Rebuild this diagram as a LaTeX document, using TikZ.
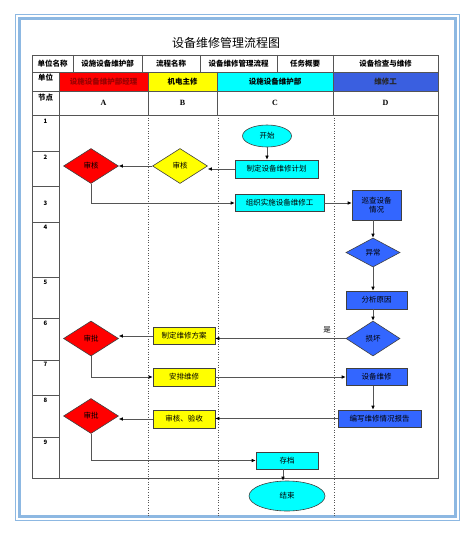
\documentclass[tikz,border=0pt]{standalone}
\usepackage{fontspec}
\setmainfont{Noto Sans CJK SC}
\newfontfamily\latinserif{Liberation Serif}
\usetikzlibrary{shapes.geometric,arrows.meta}
\definecolor{bordblue}{HTML}{8DB8E2}
\definecolor{myblue}{HTML}{3366FF}
\definecolor{hdrblue}{HTML}{3A5FE0}
\definecolor{darkred}{HTML}{990000}
\definecolor{gridgray}{HTML}{555555}
\definecolor{myred}{HTML}{FF0000}
\definecolor{myyellow}{HTML}{FFFF00}
\definecolor{mycyan}{HTML}{00FFFF}
\tikzset{
  grid/.style={draw=gridgray, line width=0.8pt},
  sep/.style={draw=gridgray, line width=0.6pt, dotted},
  hdr/.style={font=\bfseries\fontsize{7.5}{9}\selectfont, inner sep=0pt},
  num/.style={font=\bfseries\fontsize{6}{7}\selectfont, inner sep=0pt},
  lett/.style={font=\latinserif\bfseries\fontsize{8}{9}\selectfont, inner sep=0pt},
  proc/.style={draw=black!75, line width=0.6pt, inner sep=1pt, minimum height=17pt,
               font=\fontsize{7.5}{9}\selectfont, align=center},
  dia/.style={diamond, draw=black!75, line width=0.6pt, inner sep=0pt,
              minimum width=55pt, minimum height=35pt, aspect=1.57,
              font=\fontsize{7.5}{9}\selectfont},
  term/.style={ellipse, draw=black!75, line width=0.6pt, fill=mycyan, inner sep=0pt,
               font=\fontsize{7.5}{9}\selectfont},
  arr/.style={draw=gridgray, line width=0.6pt, -{Latex[length=4pt,width=3.5pt,color=black]}},
}
\begin{document}
\begin{tikzpicture}[x=1pt,y=-1pt]
\useasboundingbox (0,0) rectangle (474,540);
% border
\draw[bordblue, line width=1pt] (15.5,14.5) rectangle (459.5,520.5);
\draw[bordblue, line width=2.2pt] (19.5,18.5) rectangle (455.5,516.5);
% title
\node[font=\fontsize{12}{14}\selectfont] (title) at (226,43) {设备维修管理流程图};
% header fills
\fill[myred] (59,72) rectangle (148,91);
\fill[myyellow] (148,72) rectangle (217,91);
\fill[mycyan] (217,72) rectangle (333,91);
\fill[hdrblue] (333,72) rectangle (438,91);
% header grid
\foreach \yy in {55,72,91,115} \draw[grid] (32,\yy) -- (438,\yy);
\foreach \xx in {73,142,200,277,333} \draw[grid] (\xx,55) -- (\xx,72);
\foreach \xx in {59,148,217,333} \draw[grid] (\xx,72) -- (\xx,115);
\draw[grid] (32,55) rectangle (438,478);
\draw[grid] (59,115) -- (59,478);
\foreach \yy in {151,186,222,277,318,360,395,437} \draw[grid] (32,\yy) -- (59,\yy);
% dotted lane separators
\foreach \xx in {148,218,334} \draw[sep] (\xx,115) -- (\xx,517);
% header texts
\node[hdr] (h1) at (52.5,63.5) {单位名称};
\node[hdr] (h2) at (107.5,63.5) {设施设备维护部};
\node[hdr] (h3) at (171,63.5) {流程名称};
\node[hdr] (h4) at (238.5,63.5) {设备维修管理流程};
\node[hdr] (h5) at (305,63.5) {任务概要};
\node[hdr] (h6) at (385.5,63.5) {设备检查与维修};
\node[hdr] (u0) at (45.5,78) {单位};
\node[hdr, text=darkred] (u1) at (103.5,81.5) {设施设备维护部经理};
\node[hdr] (u2) at (182.5,81.5) {机电主修};
\node[hdr] (u3) at (275,81.5) {设施设备维护部};
\node[hdr, text=black!85] (u4) at (385.5,81.5) {维修工};
\node[hdr] (n0) at (45.5,98) {节点};
\node[lett] (la) at (103.5,103) {A};
\node[lett] (lb) at (182.5,103) {B};
\node[lett] (lc) at (275,103) {C};
\node[lett] (ld) at (385.5,103) {D};
% row numbers
\node[num] (r1) at (45.5,121) {1};
\node[num] (r2) at (45.5,157) {2};
\node[num] (r3) at (45.5,203) {3};
\node[num] (r4) at (45.5,227) {4};
\node[num] (r5) at (45.5,282) {5};
\node[num] (r6) at (45.5,323) {6};
\node[num] (r7) at (45.5,364) {7};
\node[num] (r8) at (45.5,400) {8};
\node[num] (r9) at (45.5,442) {9};
% flow nodes
\node[term, minimum width=49pt, minimum height=22pt] (start) at (267,136) {开始};
\node[proc, fill=mycyan, minimum width=83pt, minimum height=18pt] (plan) at (276.5,169) {制定设备维修计划};
\node[dia, fill=myyellow] (yd) at (180,166) {审核};
\node[dia, fill=myred] (rd1) at (91,166) {审核};
\node[proc, fill=mycyan, minimum width=89pt, minimum height=17pt] (org) at (279.5,203) {组织实施设备维修工};
\node[proc, fill=myblue, minimum width=49pt, minimum height=30pt] (patrol) at (376.5,205) {巡查设备\\情况};
\node[dia, fill=myblue, minimum width=54pt, minimum height=29pt, aspect=1.86] (abn) at (373,252.5) {异常};
\node[proc, fill=myblue, minimum width=61pt, minimum height=18pt] (ana) at (376.5,300) {分析原因};
\node[dia, fill=myblue, minimum width=54pt, minimum height=35pt, aspect=1.54] (dmg) at (373,338.5) {损坏};
\node[proc, fill=myyellow, minimum width=62pt, minimum height=17pt] (scheme) at (184,336) {制定维修方案};
\node[dia, fill=myred] (rd2) at (91,338.5) {审批};
\node[proc, fill=myyellow, minimum width=62pt, minimum height=18pt] (arrange) at (184,377) {安排维修};
\node[proc, fill=myblue, minimum width=61pt, minimum height=17pt] (repair) at (376.5,377) {设备维修};
\node[proc, fill=myblue, minimum width=83pt, minimum height=17pt] (report) at (379.5,418.5) {编写维修情况报告};
\node[proc, fill=myyellow, minimum width=62pt, minimum height=18pt] (check) at (184,419) {审核、验收};
\node[dia, fill=myred] (rd3) at (91,416) {审批};
\node[proc, fill=mycyan, minimum width=62pt, minimum height=17pt] (arch) at (287,460.5) {存档};
\node[term, minimum width=76pt, minimum height=30pt] (stop) at (287,496) {结束};
\node[font=\fontsize{7.5}{9}\selectfont, inner sep=0pt] (yes) at (327,330) {是};
% connectors
\draw[arr] (start.south) -- (start.south |- plan.north);
\draw[arr] (plan.west) -- (plan.west -| yd.east);
\draw[arr] (yd.west) -- (rd1.east);
\draw[arr] (rd1.south) |- (org.west);
\draw[arr] (org.east) -- (org.east -| patrol.west);
\draw[arr] (abn.north |- patrol.south) -- (abn.north);
\draw[arr] (abn.south) -- (abn.south |- ana.north);
\draw[arr] (dmg.north |- ana.south) -- (dmg.north);
\draw[arr] (dmg.west) -- (dmg.west -| scheme.east);
\draw[arr] (scheme.west) -- (scheme.west -| rd2.east);
\draw[arr] (rd2.south) |- (arrange.west);
\draw[arr] (arrange.east) -- (repair.west);
\draw[arr] ([xshift=-3.5pt]repair.south) -- ([xshift=-3.5pt]repair.south |- report.north);
\draw[arr] (report.west) -- (report.west -| check.east);
\draw[arr] (check.west) -- (check.west -| rd3.east);
\draw[arr] (rd3.south) |- (arch.west);
\draw[arr] ([xshift=-4pt]arch.south) -- ([xshift=-4pt]arch.south |- stop.north);
\end{tikzpicture}
\end{document}
